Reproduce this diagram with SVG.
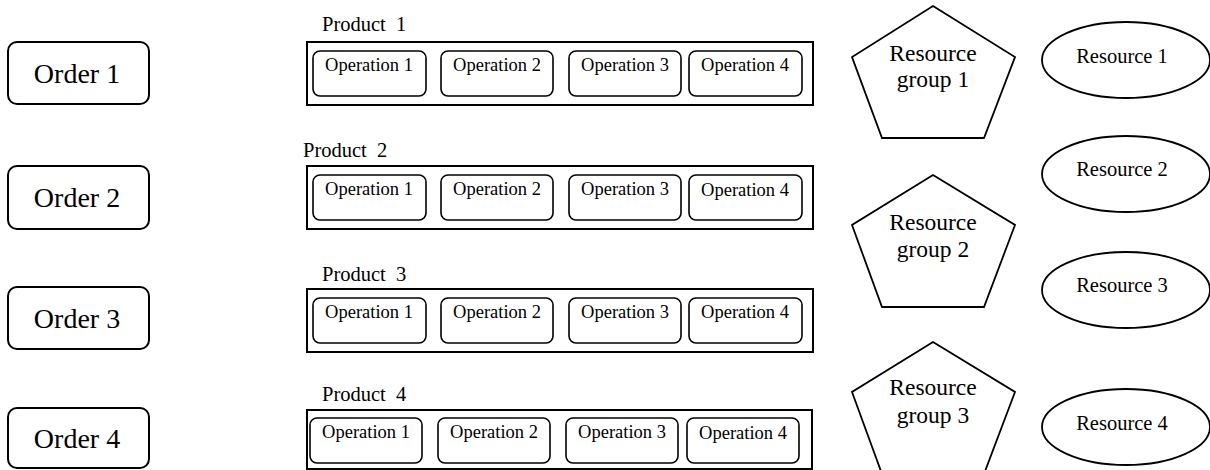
<svg xmlns="http://www.w3.org/2000/svg" width="1210" height="470" viewBox="0 0 1210 470" font-family="'Liberation Serif', 'DejaVu Serif', serif">
<style>
.order{fill:#fff;stroke:#000;stroke-width:2}
.prod{fill:#fff;stroke:#000;stroke-width:2}
.op{fill:#fff;stroke:#000;stroke-width:1.6}
.shape{fill:#fff;stroke:#000;stroke-width:1.8}
.t-order{font-family:'Liberation Serif',serif;font-size:28px;text-anchor:middle;fill:#000}
.t-prod{font-family:'Liberation Serif',serif;font-size:20.5px;fill:#000}
.t-op{font-family:'Liberation Serif',serif;font-size:18.5px;text-anchor:middle;fill:#000}
.t-res{font-family:'Liberation Serif',serif;font-size:20.5px;text-anchor:middle;fill:#000}
.t-grp{font-family:'Liberation Serif',serif;font-size:23.5px;text-anchor:middle;fill:#000}
</style>
<rect width="1210" height="470" fill="#fff"/>
<g id="connectors"></g>

<g id="order1"><rect class="order" x="8" y="42" width="141" height="62" rx="9"/><text class="t-order" x="77" y="83">Order 1</text></g>
<g id="order2"><rect class="order" x="8" y="166" width="141" height="63" rx="9"/><text class="t-order" x="77" y="207">Order 2</text></g>
<g id="order3"><rect class="order" x="8" y="287" width="141" height="62" rx="9"/><text class="t-order" x="77" y="328">Order 3</text></g>
<g id="order4"><rect class="order" x="8" y="408" width="141" height="60" rx="9"/><text class="t-order" x="77" y="448">Order 4</text></g>

<g id="product1">
<text class="t-prod" x="322" y="31" xml:space="preserve">Product  1</text>
<rect class="prod" x="307" y="42" width="506" height="63"/>
<rect class="op" x="313" y="51" width="113" height="45" rx="7"/><text class="t-op" x="369" y="71">Operation 1</text>
<rect class="op" x="441" y="51" width="112" height="45" rx="7"/><text class="t-op" x="497" y="71">Operation 2</text>
<rect class="op" x="569" y="51" width="112" height="45" rx="7"/><text class="t-op" x="625" y="71">Operation 3</text>
<rect class="op" x="689" y="51" width="113" height="45" rx="7"/><text class="t-op" x="745" y="71">Operation 4</text>
</g>

<g id="product2">
<text class="t-prod" x="303" y="157" xml:space="preserve">Product  2</text>
<rect class="prod" x="307" y="166" width="506" height="63"/>
<rect class="op" x="313" y="175" width="113" height="45" rx="7"/><text class="t-op" x="369" y="195">Operation 1</text>
<rect class="op" x="441" y="175" width="112" height="45" rx="7"/><text class="t-op" x="497" y="195">Operation 2</text>
<rect class="op" x="569" y="175" width="112" height="45" rx="7"/><text class="t-op" x="625" y="195">Operation 3</text>
<rect class="op" x="689" y="175" width="113" height="45" rx="7"/><text class="t-op" x="745" y="196">Operation 4</text>
</g>

<g id="product3">
<text class="t-prod" x="322" y="281" xml:space="preserve">Product  3</text>
<rect class="prod" x="307" y="289" width="506" height="63"/>
<rect class="op" x="313" y="298" width="113" height="45" rx="7"/><text class="t-op" x="369" y="318">Operation 1</text>
<rect class="op" x="441" y="298" width="112" height="45" rx="7"/><text class="t-op" x="497" y="318">Operation 2</text>
<rect class="op" x="569" y="298" width="112" height="45" rx="7"/><text class="t-op" x="625" y="318">Operation 3</text>
<rect class="op" x="689" y="298" width="113" height="45" rx="7"/><text class="t-op" x="745" y="318">Operation 4</text>
</g>

<g id="product4">
<text class="t-prod" x="322" y="401" xml:space="preserve">Product  4</text>
<rect class="prod" x="307" y="410" width="505" height="59"/>
<rect class="op" x="310" y="418" width="112" height="45" rx="7"/><text class="t-op" x="366" y="438">Operation 1</text>
<rect class="op" x="438" y="418" width="112" height="45" rx="7"/><text class="t-op" x="494" y="438">Operation 2</text>
<rect class="op" x="566" y="418" width="112" height="45" rx="7"/><text class="t-op" x="622" y="438">Operation 3</text>
<rect class="op" x="687" y="418" width="112" height="45" rx="7"/><text class="t-op" x="743" y="439">Operation 4</text>
</g>

<g id="rgroup1"><polygon class="shape" points="933,6 1015,57 984,138 882,138 852,57"/><text class="t-grp" x="933" y="61">Resource</text><text class="t-grp" x="933" y="87">group 1</text></g>
<g id="rgroup2"><polygon class="shape" points="933,175 1015,225 984,307 882,307 852,225"/><text class="t-grp" x="933" y="230">Resource</text><text class="t-grp" x="933" y="257">group 2</text></g>
<g id="rgroup3"><polygon class="shape" points="933,342 1015,392 984,474 882,474 852,392"/><text class="t-grp" x="933" y="395">Resource</text><text class="t-grp" x="933" y="423">group 3</text></g>

<g id="resource1"><ellipse class="shape" cx="1126" cy="60" rx="84" ry="38"/><text class="t-res" x="1122" y="63">Resource 1</text></g>
<g id="resource2"><ellipse class="shape" cx="1126" cy="174" rx="84" ry="38"/><text class="t-res" x="1122" y="176">Resource 2</text></g>
<g id="resource3"><ellipse class="shape" cx="1126" cy="290" rx="84" ry="38"/><text class="t-res" x="1122" y="292">Resource 3</text></g>
<g id="resource4"><ellipse class="shape" cx="1126" cy="427" rx="84" ry="38"/><text class="t-res" x="1122" y="430">Resource 4</text></g>
</svg>
